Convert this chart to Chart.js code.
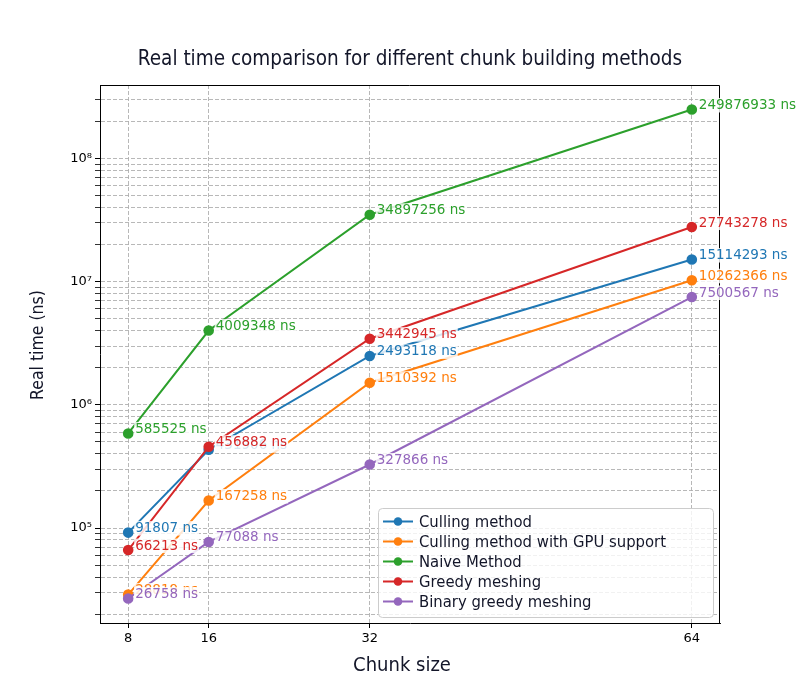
<!DOCTYPE html>
<html><head><meta charset="utf-8">
<script src="https://cdn.jsdelivr.net/npm/chart.js@4.4.0/dist/chart.umd.min.js"></script>
<style>html,body{margin:0;padding:0;background:#fff}#wrap{width:800px;height:700px}</style>
</head><body><div id="wrap"><canvas id="c" width="800" height="700"></canvas></div>
<script>
const chunkSizes = [8, 16, 32, 64];
const seriesNames = ['Culling method', 'Culling method with GPU support', 'Naive Method', 'Greedy meshing', 'Binary greedy meshing'];
const cullingValues = [91807, 431906, 2493118, 15114293];
const cullingGpuValues = [28819, 167258, 1510392, 10262366];
const naiveValues = [585525, 4009348, 34897256, 249876933];
const greedyValues = [66213, 456882, 3442945, 27743278];
const binaryGreedyValues = [26758, 77088, 327866, 7500567];
const xTickValues = [8, 16, 32, 64];
const yMajorTicks = [1e5, 1e6, 1e7, 1e8];
const yTickLabels = ['10⁵', '10⁶', '10⁷', '10⁸'];
const minorMultipliers = [1, 2, 3, 4, 5, 6, 7, 8, 9];
const seriesColors = ['#1f77b4', '#ff7f0e', '#2ca02c', '#d62728', '#9467bd'];
const allSeries = [cullingValues, cullingGpuValues, naiveValues, greedyValues, binaryGreedyValues];
const titleText = 'Real time comparison for different chunk building methods';
const xTitleText = 'Chunk size';
const yTitleText = 'Real time (ns)';

const NARROW = '"DejaVu Sans Condensed", "Liberation Sans Narrow", "DejaVu Sans", sans-serif';
const TEXT_DARK = '#131629';

// matplotlib-like 5% margins
const xMinD = Math.min(...chunkSizes), xMaxD = Math.max(...chunkSizes);
const xPad = (xMaxD - xMinD) * 0.05;
const allVals = allSeries.flat();
const lMin = Math.log10(Math.min(...allVals)), lMax = Math.log10(Math.max(...allVals));
const lPad = (lMax - lMin) * 0.05;

const datasets = allSeries.map((vals, i) => ({
  label: seriesNames[i],
  data: chunkSizes.map((x, k) => ({x: x, y: vals[k]})),
  borderColor: seriesColors[i],
  backgroundColor: seriesColors[i],
  pointBackgroundColor: seriesColors[i],
  pointBorderColor: seriesColors[i],
  pointRadius: 4.3,
  pointHoverRadius: 4.3,
  borderWidth: 2,
  tension: 0,
  order: allSeries.length - i
}));

const framePlugin = {
  id: 'frame',
  afterDatasetsDraw(chart) {
    const {ctx, chartArea: a} = chart;
    ctx.save();
    ctx.strokeStyle = '#000';
    ctx.lineWidth = 1;
    ctx.beginPath();
    ctx.moveTo(a.left, a.top + 0.5);
    ctx.lineTo(a.right - 0.5, a.top + 0.5);
    ctx.lineTo(a.right - 0.5, a.bottom);
    ctx.stroke();
    ctx.restore();
  }
};

const valueLabelPlugin = {
  id: 'valueLabels',
  afterDatasetsDraw(chart) {
    const ctx = chart.ctx;
    ctx.save();
    ctx.font = '13.5px "DejaVu Sans"';
    ctx.textBaseline = 'alphabetic';
    ctx.textAlign = 'left';
    chart.data.datasets.forEach((ds, i) => {
      const meta = chart.getDatasetMeta(i);
      meta.data.forEach((pt, j) => {
        const text = ds.data[j].y + ' ns';
        const x = pt.x + 7, y = pt.y - 0.5;
        const w = ctx.measureText(text).width;
        ctx.fillStyle = 'rgba(255,255,255,0.82)';
        ctx.fillRect(x - 1, y - 11, w + 2, 14.5);
        ctx.fillStyle = ds.borderColor;
        ctx.fillText(text, x, y);
      });
    });
    ctx.restore();
  }
};

const axisTitlePlugin = {
  id: 'axisTitles',
  afterDraw(chart) {
    const {ctx, chartArea: a} = chart;
    ctx.save();
    ctx.fillStyle = TEXT_DARK;
    ctx.textAlign = 'center';
    ctx.textBaseline = 'middle';
    ctx.font = '20px ' + NARROW;
    ctx.fillText(xTitleText, (a.left + a.right) / 2 - 8, a.bottom + 43);
    ctx.translate(38, (a.top + a.bottom) / 2 - 9);
    ctx.rotate(-Math.PI / 2);
    ctx.font = '17.5px ' + NARROW;
    ctx.fillText(yTitleText, 0, 0);
    ctx.restore();
  }
};

function roundRect(ctx, x, y, w, h, r) {
  ctx.beginPath();
  ctx.moveTo(x + r, y);
  ctx.lineTo(x + w - r, y);
  ctx.quadraticCurveTo(x + w, y, x + w, y + r);
  ctx.lineTo(x + w, y + h - r);
  ctx.quadraticCurveTo(x + w, y + h, x + w - r, y + h);
  ctx.lineTo(x + r, y + h);
  ctx.quadraticCurveTo(x, y + h, x, y + h - r);
  ctx.lineTo(x, y + r);
  ctx.quadraticCurveTo(x, y, x + r, y);
  ctx.closePath();
}

const legendPlugin = {
  id: 'innerLegend',
  afterDraw(chart) {
    const {ctx, chartArea: a} = chart;
    const bw = 335, bh = 109;
    const bx = a.right - 7 - bw, by = a.bottom - 6 - bh;
    ctx.save();
    roundRect(ctx, bx + 0.5, by + 0.5, bw, bh, 4);
    ctx.fillStyle = 'rgba(255,255,255,0.8)';
    ctx.fill();
    ctx.strokeStyle = '#cccccc';
    ctx.lineWidth = 1;
    ctx.stroke();
    ctx.font = '16.5px ' + NARROW;
    ctx.textBaseline = 'middle';
    ctx.textAlign = 'left';
    chart.data.datasets.forEach((ds, i) => {
      const cy = by + 13.5 + i * 20;
      ctx.strokeStyle = ds.borderColor;
      ctx.lineWidth = 2;
      ctx.beginPath();
      ctx.moveTo(bx + 5, cy);
      ctx.lineTo(bx + 35, cy);
      ctx.stroke();
      ctx.fillStyle = ds.borderColor;
      ctx.beginPath();
      ctx.arc(bx + 20, cy, 4.3, 0, Math.PI * 2);
      ctx.fill();
      ctx.fillStyle = TEXT_DARK;
      ctx.fillText(ds.label, bx + 41, cy + 1);
    });
    ctx.restore();
  }
};

new Chart(document.getElementById('c'), {
  type: 'line',
  data: {datasets: datasets},
  options: {
    responsive: false,
    devicePixelRatio: 1,
    animation: false,
    events: [],
    layout: {padding: {left: 0, right: 80, top: 0, bottom: 0}},
    plugins: {
      legend: {display: false},
      tooltip: {enabled: false},
      title: {
        display: true,
        fullSize: false,
        text: titleText,
        color: TEXT_DARK,
        font: {family: NARROW, size: 20.5, weight: 'normal', lineHeight: 1.2},
        padding: {top: 47.7, bottom: 12.7}
      }
    },
    scales: {
      x: {
        type: 'linear',
        min: xMinD - xPad,
        max: xMaxD + xPad,
        afterBuildTicks(scale) { scale.ticks = xTickValues.map(v => ({value: v})); },
        afterFit(scale) { scale.height = 77; },
        ticks: {
          autoSkip: false, maxRotation: 0, padding: 3,
          color: '#000', font: {family: '"DejaVu Sans"', size: 13},
          callback: v => String(v)
        },
        grid: {color: '#b0b0b0', lineWidth: 0.9, tickColor: '#000', tickWidth: 1, tickLength: 5, tickBorderDash: []},
        border: {display: true, color: '#000', width: 1, dash: [4, 2]},
        title: {display: false}
      },
      y: {
        type: 'logarithmic',
        min: Math.pow(10, lMin - lPad),
        max: Math.pow(10, lMax + lPad),
        afterBuildTicks(scale) {
          const t = [];
          for (let e = 4; e <= 8; e++) {
            for (const m of minorMultipliers) {
              const v = m * Math.pow(10, e);
              if (v >= scale.min && v <= scale.max) t.push({value: v, major: m === 1});
            }
          }
          scale.ticks = t;
        },
        afterFit(scale) { scale.width = 100; },
        ticks: {
          autoSkip: false, padding: 3,
          color: '#000', font: {family: '"DejaVu Sans"', size: 13},
          callback: (v) => { const k = yMajorTicks.indexOf(v); return k >= 0 ? yTickLabels[k] : ''; }
        },
        grid: {
          color: '#b0b0b0', lineWidth: 0.9, tickColor: '#000',
          tickWidth: (c) => (c.tick && yMajorTicks.indexOf(c.tick.value) >= 0) ? 1 : 0.8,
          tickLength: 5, tickBorderDash: []
        },
        border: {display: true, color: '#000', width: 1, dash: [4, 2]},
        title: {display: false}
      }
    }
  },
  plugins: [framePlugin, valueLabelPlugin, axisTitlePlugin, legendPlugin]
});
</script>
</body></html>
